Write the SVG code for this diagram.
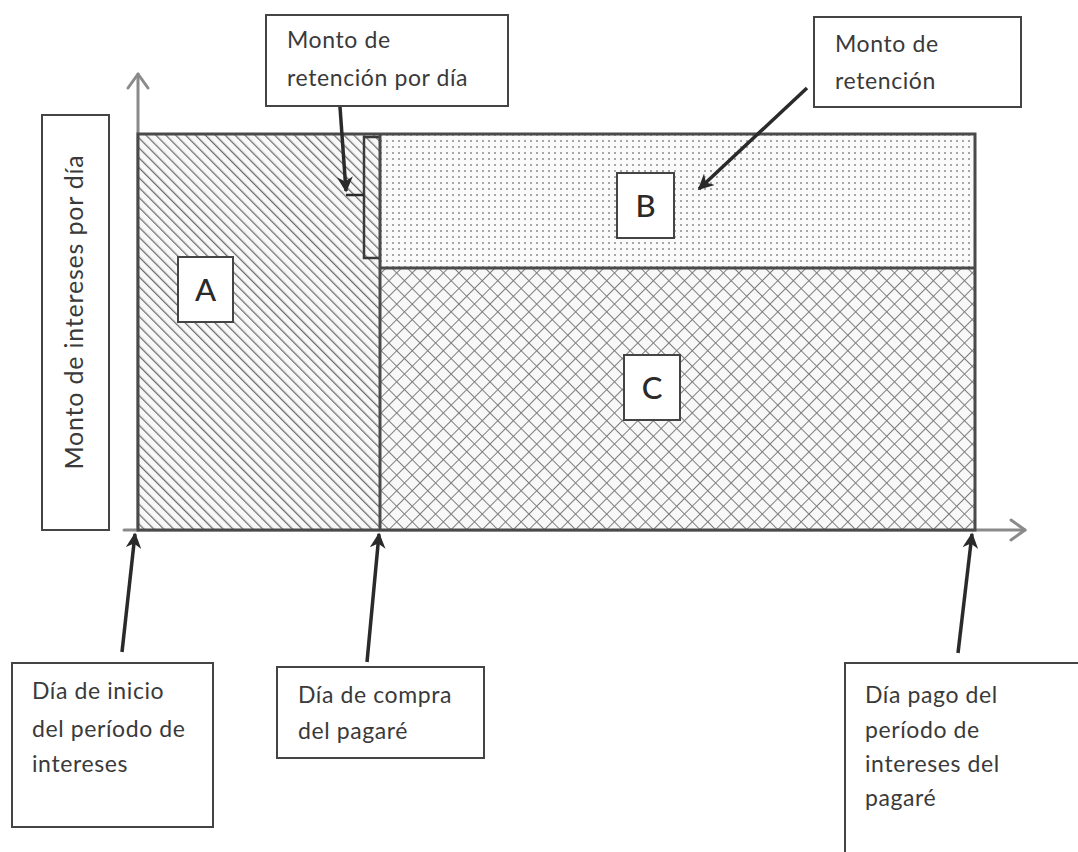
<svg xmlns="http://www.w3.org/2000/svg" width="1078" height="852" viewBox="0 0 1078 852">
<style>
.box{fill:#fff;stroke:#444;stroke-width:2}
.t{font-family:Lato,"Open Sans","Liberation Sans",sans-serif;font-size:23px;letter-spacing:0.6px;fill:#3a3a3a}
.L{font-family:Lato,"Open Sans","Liberation Sans",sans-serif;font-size:31px;font-weight:500;fill:#2a2a2a;text-anchor:middle}
.border{fill:none;stroke:#4a4a4a;stroke-width:3}
.axis{fill:none;stroke:#8a8a8a;stroke-width:3;stroke-linecap:round;stroke-linejoin:round}
.arr{stroke:#2a2a2a;stroke-width:3.5;fill:none;marker-end:url(#ah)}
</style>
<defs>
<pattern id="hatch" width="7" height="7" patternUnits="userSpaceOnUse" patternTransform="rotate(-45)">
<rect width="7" height="7" fill="#f8f8f8"/>
<line x1="0" y1="0" x2="0" y2="7" stroke="#6e6e6e" stroke-width="2.6"/>
</pattern>
<pattern id="dots" width="6" height="6" patternUnits="userSpaceOnUse">
<rect width="6" height="6" fill="#fafafa"/>
<circle cx="3" cy="3" r="1" fill="#8c8c8c"/>
</pattern>
<pattern id="cross" width="11" height="11" patternUnits="userSpaceOnUse" patternTransform="rotate(45)">
<rect width="11" height="11" fill="#f8f8f8"/>
<line x1="0" y1="0" x2="0" y2="11" stroke="#7e7e7e" stroke-width="2"/>
<line x1="0" y1="0" x2="11" y2="0" stroke="#7e7e7e" stroke-width="2"/>
</pattern>
<marker id="ah" viewBox="0 0 10 10" refX="9" refY="5" markerWidth="4.5" markerHeight="4.5" orient="auto" markerUnits="strokeWidth">
<path d="M0,0 L10,5 L0,10 L3,5 Z" fill="#2a2a2a"/>
</marker>
</defs>

<g id="axes">
<polyline class="axis" points="138,530 138,74"/>
<polyline class="axis" points="128,88 138,74 148,88"/>
<polyline class="axis" points="124,530 1025,530"/>
<polyline class="axis" points="1011,520 1025,530 1011,540"/>
</g>

<g id="region-A">
<rect x="138" y="134" width="242" height="396" fill="url(#hatch)"/>
</g>
<g id="region-B">
<rect x="380" y="134" width="595" height="134" fill="url(#dots)"/>
</g>
<g id="region-C">
<rect x="380" y="268" width="595" height="262" fill="url(#cross)"/>
</g>
<g id="retention-bar">
<rect x="364" y="137" width="17" height="121" fill="url(#hatch)"/>
<polyline points="381,137 364,137 364,258 381,258" fill="none" stroke="#3a3a3a" stroke-width="2.5"/>
</g>
<g id="frame">
<rect class="border" x="138" y="134" width="837" height="396"/>
<line class="border" x1="380" y1="134" x2="380" y2="530"/>
<line class="border" x1="380" y1="268" x2="975" y2="268"/>
</g>

<g id="ylabel">
<rect class="box" x="42" y="115" width="67" height="415"/>
<text class="t" transform="translate(83,312) rotate(-90)" text-anchor="middle" style="font-size:25px;letter-spacing:0.8px">Monto de intereses por día</text>
</g>

<g id="label-A">
<rect class="box" x="178" y="257" width="55" height="65"/>
<text class="L" x="205.5" y="301">A</text>
</g>
<g id="label-B">
<rect class="box" x="617" y="173" width="57" height="65"/>
<text class="L" x="645.5" y="217">B</text>
</g>
<g id="label-C">
<rect class="box" x="624" y="355" width="56" height="65"/>
<text class="L" x="652" y="399">C</text>
</g>

<g id="note-retencion-dia">
<rect class="box" x="266" y="15" width="242" height="91"/>
<text class="t" x="287" y="48">Monto de</text>
<text class="t" x="287" y="86">retención por día</text>
</g>
<g id="note-retencion">
<rect class="box" x="814" y="17" width="207" height="90"/>
<text class="t" x="835" y="52">Monto de</text>
<text class="t" x="835" y="89">retención</text>
</g>

<g id="note-inicio">
<rect class="box" x="12" y="663" width="201" height="164"/>
<text class="t" x="32" y="699">Día de inicio</text>
<text class="t" x="32" y="737">del período de</text>
<text class="t" x="32" y="772">intereses</text>
</g>
<g id="note-compra">
<rect class="box" x="277" y="667" width="207" height="91"/>
<text class="t" x="298" y="703">Día de compra</text>
<text class="t" x="298" y="739">del pagaré</text>
</g>
<g id="note-pago">
<rect class="box" x="845" y="663" width="250" height="200"/>
<text class="t" x="865" y="703">Día pago del</text>
<text class="t" x="865" y="738">período de</text>
<text class="t" x="865" y="772">intereses del</text>
<text class="t" x="865" y="806">pagaré</text>
</g>

<g id="connectors">
<line class="arr" x1="340" y1="107" x2="346" y2="191"/>
<line x1="346" y1="195" x2="364" y2="195" stroke="#2a2a2a" stroke-width="2.5"/>
<line class="arr" x1="807" y1="88" x2="699" y2="189"/>
<line class="arr" x1="122" y1="652" x2="135" y2="534"/>
<line class="arr" x1="367" y1="662" x2="379" y2="534"/>
<line class="arr" x1="958" y1="653" x2="972" y2="534"/>
</g>
</svg>
